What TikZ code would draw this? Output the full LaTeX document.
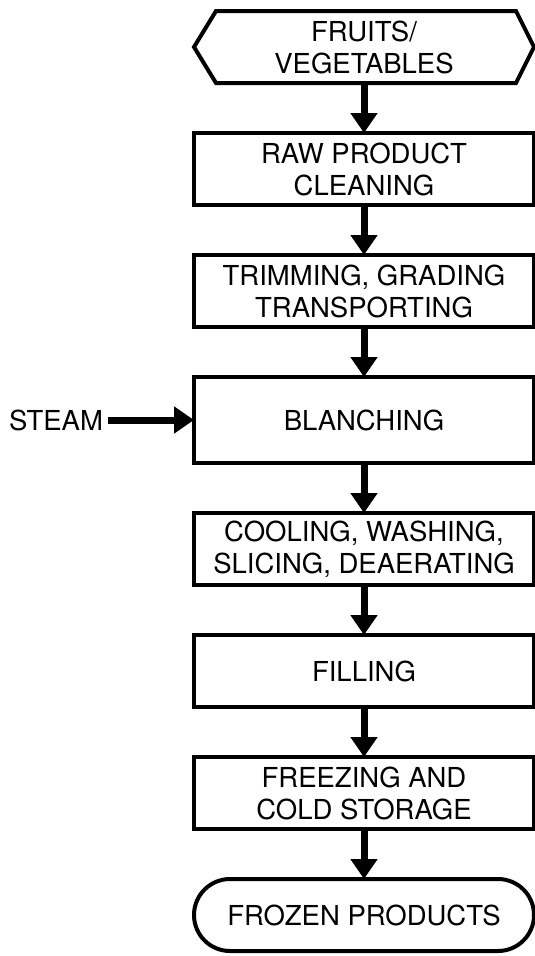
\documentclass[tikz,border=0pt]{standalone}
\usepackage{fontspec}
\setmainfont{TeX Gyre Heros}
\usepackage{tikz}
\usetikzlibrary{arrows.meta}
\usetikzlibrary{positioning}

\begin{document}
\begin{tikzpicture}[x=1pt,y=1pt,node distance=50pt,line width=4pt]
  \tikzstyle{every node}=[font=\fontsize{27.5}{32}\selectfont]
  \tikzstyle{procbox}=[draw, rectangle, minimum width=340pt, minimum height=72pt, align=center, inner sep=0pt, outer sep=0pt]
  \tikzstyle{flow}=[line width=7pt, -{Triangle[length=20pt,width=26pt]}]
  \useasboundingbox (0,0) rectangle (535,-956);

  \node[procbox, draw=none] (fruits) at (364,-47) {FRUITS/\\VEGETABLES};
  \node[procbox] (clean) [below=of fruits] {RAW PRODUCT\\CLEANING};
  \node[procbox] (trim) [below=of clean] {TRIMMING, GRADING\\TRANSPORTING};
  \node[procbox, minimum height=86pt] (blanch) [below=of trim] {BLANCHING};
  \node[procbox] (cool) [below=of blanch] {COOLING, WASHING,\\SLICING, DEAERATING};
  \node[procbox] (fill) [below=of cool] {FILLING};
  \node[procbox] (freeze) [below=of fill] {FREEZING AND\\COLD STORAGE};
  \node[procbox, rounded corners=36pt] (frozen) [below=of freeze] {FROZEN PRODUCTS};
  \node (steam) at (56,-420) {STEAM};

  % six-sided start box
  \draw ([xshift=22pt]fruits.north west) -- ([xshift=-18pt]fruits.north east) -- (fruits.east)
    -- ([xshift=-18pt]fruits.south east) -- ([xshift=22pt]fruits.south west) -- (fruits.west) -- cycle;

  \draw[flow] (fruits) -- (clean);
  \draw[flow] (clean) -- (trim);
  \draw[flow] (trim) -- (blanch);
  \draw[flow] (blanch) -- (cool);
  \draw[flow] (cool) -- (fill);
  \draw[flow] (fill) -- (freeze);
  \draw[flow] (freeze) -- (frozen);
  \draw[flow] (steam) -- (blanch);
\end{tikzpicture}
\end{document}
